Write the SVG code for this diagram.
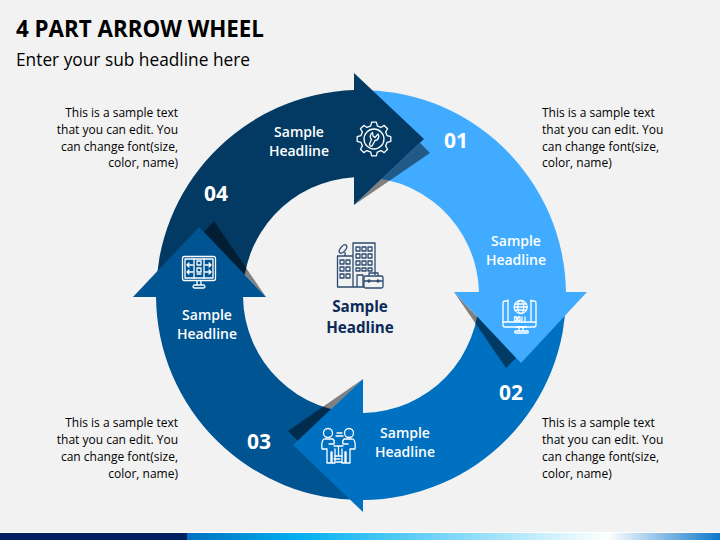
<svg xmlns="http://www.w3.org/2000/svg" width="720" height="540" viewBox="0 0 720 540">
<defs>
<linearGradient id="bar" x1="0" x2="1" y1="0" y2="0">
<stop offset="0" stop-color="#0070c0"/><stop offset="0.21" stop-color="#00b0f0"/><stop offset="0.79" stop-color="#ffffff"/><stop offset="1" stop-color="#0d78cc"/>
</linearGradient>
</defs>
<style>
text{font-family:"Open Sans","Noto Sans","Liberation Sans",sans-serif}
.title{font-size:23px;font-weight:700;fill:#000}
.sub{font-size:18px;fill:#000}
.b{font-size:12px;fill:#000}
.r{text-anchor:end}
.h{font-size:14px;font-weight:600;fill:#fff;text-anchor:middle}
.n{font-size:21px;font-weight:700;fill:#fff;text-anchor:middle}
.c{font-size:15.200px;font-weight:700;fill:#0b2a58;text-anchor:middle}
.sh{fill:#000;opacity:.47}
.i{fill:none;stroke:#fff;stroke-width:1.3;stroke-linejoin:round;stroke-linecap:round}
.d{fill:none;stroke:#2d4b70;stroke-width:1.3;stroke-linejoin:round}
</style>
<rect width="720" height="540" fill="#f2f2f2"/>
<rect x="0" y="532" width="720" height="1" fill="#ffffff"/>
<rect x="0" y="533" width="187" height="7" fill="#002060"/>
<rect x="187" y="533" width="533" height="7" fill="url(#bar)"/>
<text class="title" x="16" y="37" textLength="248" lengthAdjust="spacingAndGlyphs">4 PART ARROW WHEEL</text>
<text class="sub" x="16" y="66" textLength="234" lengthAdjust="spacingAndGlyphs">Enter your sub headline here</text>

<g id="connectors">
<path d="M156,297A205,205 0 0 1 354,90.1L354,177.2A118,118 0 0 0 243,297Z" fill="#033a63"/>
<path d="M354,90.1A205,205 0 0 1 566,292L479,292A118,118 0 0 0 354,177.2Z" fill="#41abff"/>
<path d="M566,292A205,205 0 0 1 363,500L363,413A118,118 0 0 0 479,292Z" fill="#0070c0"/>
<path d="M363,500A205,205 0 0 1 156,297L243,297A118,118 0 0 0 363,413Z" fill="#005492"/>
<polygon class="sh" points="430,153 420,143 354,205"/>
<polygon class="sh" points="506,368 516,358 454,292"/>
<polygon class="sh" points="288,431 298,441 363,379"/>
<polygon class="sh" points="214,221 204,232 266,297"/>
<polygon points="354,73 424,139 354,205" fill="#033a63"/>
<polygon points="454,292 587,292 521,363" fill="#41abff"/>
<polygon points="363,379 363,512 293,445" fill="#0070c0"/>
<polygon points="133,297 266,297 199,227" fill="#005492"/>
</g>

<g id="node-01">
<text class="n" x="456" y="148">01</text>
<text class="h" x="516" y="246">Sample</text>
<text class="h" x="516" y="265">Headline</text>
<text class="b" x="542" y="117">This is a sample text</text>
<text class="b" x="542" y="134">that you can edit. You</text>
<text class="b" x="542" y="151">can change font(size,</text>
<text class="b" x="542" y="167">color, name)</text>
<g class="i" id="icon-monitor-globe">
<circle cx="520.7" cy="307" r="6.5"/><ellipse cx="520.7" cy="307" rx="3" ry="6.5"/><path d="M514.2,307H527.2M515,304H526.5M515,310H526.5"/>
<path d="M508,301H505Q503,301 503,303V325Q503,327 505,327H534Q536,327 536,325V303Q536,301 534,301H531"/>
<path d="M508,300V322H531V300M503,322H536"/>
<path d="M514.5,317h2v4h-2zM518,317h2v4h-2zM522,317v4M525,317v4"/>
<path d="M516,327H526M519,327V331M523,327V331M515,331H528Q529,333 527,333H516Q514,333 515,331Z"/>
</g>
</g>

<g id="node-02">
<text class="n" x="511" y="400">02</text>
<text class="h" x="405" y="438">Sample</text>
<text class="h" x="405" y="457">Headline</text>
<text class="b" x="542" y="427">This is a sample text</text>
<text class="b" x="542" y="444">that you can edit. You</text>
<text class="b" x="542" y="461">can change font(size,</text>
<text class="b" x="542" y="478">color, name)</text>
<g class="i" id="icon-people">
<circle cx="328" cy="433" r="4.5"/><circle cx="349" cy="433" r="4.5"/>
<path d="M324,439Q321,441 322,449H327M333,439H325M333,439Q335,441 334,444H329M327,449V463H331V452H332V463H335V449"/>
<path d="M353,439Q356,441 355,449H350M344,439H352M344,439Q342,441 343,444H348M350,449V463H346V452H345V463H342V449"/>
<path d="M334,446H343M338.500,446V456M335,456H342"/>
<path d="M336,436H343M337,433H342M334,459H340M336,462H342"/>
</g>
</g>

<g id="node-03">
<text class="n" x="259" y="449">03</text>
<text class="h" x="207" y="320">Sample</text>
<text class="h" x="207" y="339">Headline</text>
<text class="b r" x="178" y="427">This is a sample text</text>
<text class="b r" x="178" y="444">that you can edit. You</text>
<text class="b r" x="178" y="461">can change font(size,</text>
<text class="b r" x="178" y="478">color, name)</text>
<g class="i" id="icon-monitor-plan">
<rect x="182.500" y="256.500" width="33" height="24" rx="2"/>
<rect x="185" y="259" width="28" height="19"/>
<path d="M194,259V278M204,259V278"/>
<path d="M187,265H193M187,265l2,-2M187,265l2,2M187,272H193M187,272l2,-2M187,272l2,2M205,265H211M211,265l-2,-2M211,265l-2,2M205,272H211M211,272l-2,-2M211,272l-2,2"/>
<path d="M197,261h4v4h-4zM197,268h4v4h-4zM197,274h4"/>
<path d="M197,281V285M201,281V285M194,285H204Q206,287 204,288H194Q192,287 194,285Z"/>
</g>
</g>

<g id="node-04">
<text class="n" x="216" y="201">04</text>
<text class="h" x="299" y="137">Sample</text>
<text class="h" x="299" y="156">Headline</text>
<text class="b r" x="178" y="117">This is a sample text</text>
<text class="b r" x="178" y="134">that you can edit. You</text>
<text class="b r" x="178" y="151">can change font(size,</text>
<text class="b r" x="178" y="167">color, name)</text>
<g class="i" id="icon-gear" transform="translate(374,139)">
<path d="M13.1,-3.27L16.83,-2.37V2.37L13.1,3.27L11.57,6.95L13.58,10.23L10.23,13.58L6.95,11.57L3.27,13.1L2.37,16.83H-2.37L-3.27,13.1L-6.95,11.57L-10.23,13.58L-13.58,10.23L-11.57,6.95L-13.1,3.27L-16.83,2.37V-2.37L-13.1,-3.27L-11.57,-6.95L-13.58,-10.23L-10.23,-13.58L-6.95,-11.57L-3.27,-13.1L-2.37,-16.83H2.37L3.27,-13.1L6.95,-11.57L10.23,-13.58L13.58,-10.23L11.57,-6.95Z"/>
<circle r="10"/>
<path d="M-1.500,-6.500L-1,-3L1,-1.500L4,-5Q6,-2 3,1L1,1.500L-2,7Q-4,8 -4.500,5L-2.500,0.500Q-5.500,-3 -1.500,-6.500Z"/>
</g>
</g>

<g id="node-center">
<text class="c" x="360" y="312">Sample</text>
<text class="c" x="360" y="333">Headline</text>
<g class="d" id="icon-building">
<path d="M353,287V243H375V275"/>
<path d="M353,256H337.500V287H364"/>
<path d="M357,287V275H363V287"/>
<ellipse cx="343" cy="249" rx="5" ry="2.500" transform="rotate(-50 343 249)"/>
<path d="M345,252V256"/>
<path d="M356,247h4v4h-4zM362,247h4v4h-4zM368,247h4v4h-4zM356,254h4v4h-4zM362,254h4v4h-4zM368,254h4v4h-4zM356,261h4v4h-4zM362,261h4v4h-4zM368,261h4v4h-4zM356,268h4v3h-4zM362,268h4v3h-4zM368,268h4v3h-4z"/>
<path d="M340,260h4v4h-4zM346,260h4v4h-4zM340,267h4v4h-4zM346,267h4v4h-4zM340,274h4v4h-4zM346,274h4v4h-4z"/>
<rect x="364" y="276" width="19" height="12" rx="1.500"/>
<path d="M369,276V273H378V276M364,281H383"/>
<circle cx="369" cy="281" r="1"/><circle cx="378" cy="281" r="1"/>
</g>
</g>
</svg>
